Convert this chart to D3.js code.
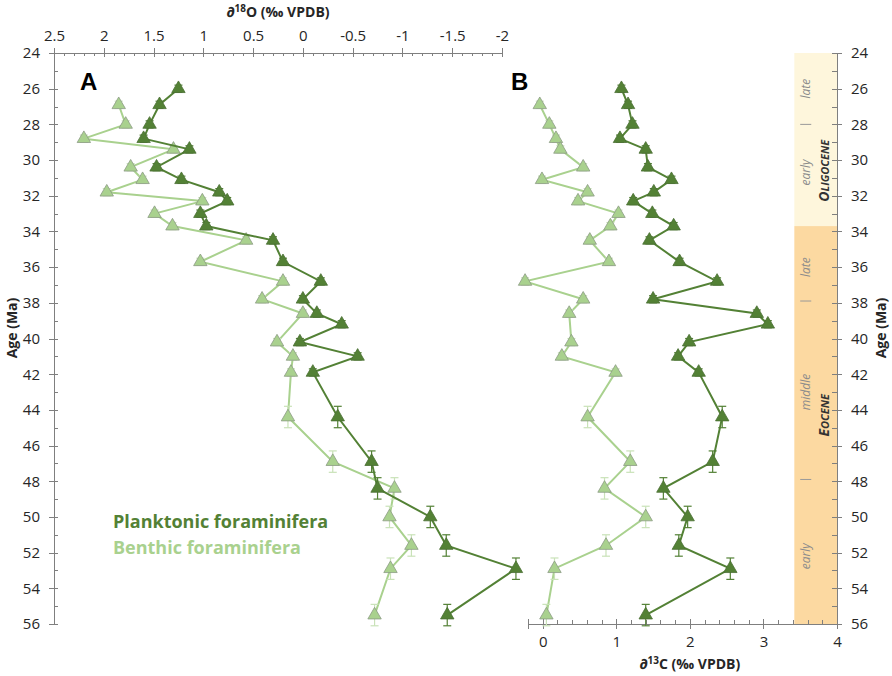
<!DOCTYPE html>
<html lang="en">
<head>
<meta charset="utf-8">
<title>Isotope records</title>
<script src="https://cdn.jsdelivr.net/npm/d3@7/dist/d3.min.js"></script>
<style>
	body { margin: 0; background: #fff; }
	svg { font-family: "Open Sans", sans-serif; }
	.axis path, .axis line { stroke: #7f7f7f; shape-rendering: crispEdges; }
	.axis text { fill: #262626; font-size: 15px; font-family: "Open Sans", sans-serif; }
	.title { font-weight: bold; font-size: 14px; fill: #262626; }
</style>
</head>
<body>
<div id="chart"></div>
<script>
	// sample ages (Ma) and isotope values
	var planktonicAge = [26.0, 26.9, 28.0, 28.8, 29.4, 30.4, 31.1, 31.8, 32.3, 33.0, 33.7, 34.5, 35.7,
		36.8, 37.8, 38.6, 39.2, 40.2, 41.0, 41.9, 44.4, 46.9, 48.4, 50.0, 51.6, 52.9, 55.5];
	var planktonicO18 = [1.25, 1.44, 1.54, 1.60, 1.14, 1.47, 1.22, 0.84, 0.76, 1.03, 0.97, 0.30, 0.20,
		-0.18, 0.00, -0.14, -0.39, 0.03, -0.55, -0.10, -0.35, -0.69, -0.75, -1.28, -1.44, -2.14, -1.45];
	var planktonicC13 = [1.07, 1.16, 1.22, 1.05, 1.40, 1.43, 1.75, 1.51, 1.23, 1.49, 1.78, 1.45, 1.86,
		2.37, 1.50, 2.91, 3.06, 1.99, 1.84, 2.12, 2.44, 2.31, 1.64, 1.97, 1.85, 2.55, 1.40];
	var planktonicAgeErr = [0.2, 0.2, 0.2, 0.2, 0.2, 0.2, 0.2, 0.2, 0.2, 0.2, 0.2, 0.2, 0.2,
		0.2, 0.2, 0.2, 0.2, 0.2, 0.2, 0.2, 0.6, 0.6, 0.6, 0.6, 0.6, 0.6, 0.6];

	var benthicAge = [26.9, 28.0, 28.8, 29.4, 30.4, 31.1, 31.8, 32.3, 33.0, 33.7, 34.5, 35.7,
		36.8, 37.8, 38.6, 40.2, 41.0, 41.9, 44.4, 46.9, 48.4, 50.0, 51.6, 52.9, 55.5];
	var benthicO18 = [1.85, 1.78, 2.20, 1.30, 1.73, 1.61, 1.97, 1.01, 1.49, 1.31, 0.57, 1.03,
		0.20, 0.41, 0.00, 0.26, 0.10, 0.12, 0.15, -0.30, -0.92, -0.87, -1.09, -0.88, -0.72];
	var benthicC13 = [-0.04, 0.09, 0.18, 0.24, 0.55, -0.01, 0.61, 0.48, 1.03, 0.92, 0.64, 0.90,
		-0.24, 0.55, 0.36, 0.39, 0.26, 0.99, 0.61, 1.19, 0.84, 1.40, 0.86, 0.16, 0.05];
	var benthicAgeErr = [0.2, 0.2, 0.2, 0.2, 0.2, 0.2, 0.2, 0.2, 0.2, 0.2, 0.2, 0.2,
		0.2, 0.2, 0.2, 0.2, 0.2, 0.2, 0.6, 0.6, 0.6, 0.6, 0.6, 0.6, 0.6];

	// epochs / stages column
	var epochNames = ["Oligocene", "Eocene"];
	var epochStart = [24, 33.7];
	var epochEnd = [33.7, 56];
	var stageNames = ["late", "early", "late", "middle", "early"];
	var stageMid = [26.0, 30.7, 36.0, 43.0, 52.2];
	var stageBounds = [28.0, 37.9, 47.9];

	var oTicks = [2.5, 2, 1.5, 1, 0.5, 0, -0.5, -1, -1.5, -2];
	var cTicks = [0, 1, 2, 3, 4];
	var ageTicks = d3.range(24, 57, 2);

	var W = 892, H = 676;
	var darkGreen = "#538135", lightGreen = "#a9d18e";

	var svg = d3.select("#chart").append("svg").attr("width", W).attr("height", H);

	var y = d3.scaleLinear().domain([24, 56]).range([53, 624]);
	var xO = d3.scaleLinear().domain([2.5, -2]).range([54, 502]);
	var xC = d3.scaleLinear().domain([-0.2, 4]).range([528, 837]);

	// epoch column
	var epochFill = ["#fef6dc", "#fcd9a1"];
	svg.append("g").selectAll("rect")
		.data(epochNames)
		.enter().append("rect")
		.attr("x", xC(3.42))
		.attr("width", xC(4) - xC(3.42))
		.attr("y", function(d, i) { return y(epochStart[i]) })
		.attr("height", function(d, i) { return y(epochEnd[i]) - y(epochStart[i]) })
		.attr("fill", function(d, i) { return epochFill[i] });

	svg.append("g").selectAll("line")
		.data(stageBounds)
		.enter().append("line")
		.attr("x1", xC(3.5)).attr("x2", xC(3.65))
		.attr("y1", function(d) { return y(d) }).attr("y2", function(d) { return y(d) })
		.attr("stroke", "#999").attr("stroke-width", 1);

	svg.append("g").selectAll("text")
		.data(stageNames)
		.enter().append("text")
		.attr("transform", function(d, i) { return "translate(" + (xC(3.58) + 4) + "," + y(stageMid[i]) + ") rotate(-90)" })
		.attr("text-anchor", "middle")
		.attr("font-size", 12).attr("font-style", "italic").attr("fill", "#8c8c8c")
		.text(function(d) { return d });

	// small caps by hand: first letter big, rest smaller upper case
	var epochMid = [30.6, 44.3];
	var epochLabels = svg.append("g").selectAll("text")
		.data(epochNames)
		.enter().append("text")
		.attr("transform", function(d, i) { return "translate(" + (xC(3.83) + 5) + "," + y(epochMid[i]) + ") rotate(-90)" })
		.attr("text-anchor", "middle")
		.attr("font-style", "italic").attr("font-weight", "bold").attr("fill", "#333");
	epochLabels.append("tspan").attr("font-size", 14).text(function(d) { return d.charAt(0) });
	epochLabels.append("tspan").attr("font-size", 11).text(function(d) { return d.slice(1).toUpperCase() });

	// axes
	function noLabel() { return "" }
	function plain(d) { return String(d) }

	var topAxis = svg.append("g").attr("class", "axis").attr("transform", "translate(0," + y(24) + ")");
	topAxis.call(d3.axisTop(xO).tickValues(oTicks).tickSize(5).tickPadding(7).tickFormat(plain));
	topAxis.append("g").call(d3.axisTop(xO).tickValues(oTicks).tickSize(-4).tickFormat(noLabel));
	topAxis.append("g").call(d3.axisTop(xO).tickValues(d3.range(-20, 26).map(function(d) { return d / 10 })).tickSize(-3).tickFormat(noLabel));

	var leftAxis = svg.append("g").attr("class", "axis").attr("transform", "translate(" + xO(2.5) + ",0)");
	leftAxis.call(d3.axisLeft(y).tickValues(ageTicks).tickSize(5).tickPadding(9).tickFormat(plain));
	leftAxis.append("g").call(d3.axisLeft(y).tickValues(ageTicks).tickSize(-4).tickFormat(noLabel));
	leftAxis.append("g").call(d3.axisLeft(y).tickValues(d3.range(25, 56, 2)).tickSize(-4).tickFormat(noLabel));

	var bottomAxis = svg.append("g").attr("class", "axis").attr("transform", "translate(0," + y(56) + ")");
	bottomAxis.call(d3.axisBottom(xC).tickValues(cTicks).tickSize(5).tickPadding(7).tickFormat(plain));
	bottomAxis.append("g").call(d3.axisBottom(xC).tickValues(cTicks).tickSize(-5).tickFormat(noLabel));
	bottomAxis.append("g").call(d3.axisBottom(xC).tickValues(d3.range(-1, 21).map(function(d) { return d / 5 })).tickSize(-4).tickFormat(noLabel));

	var rightAxis = svg.append("g").attr("class", "axis").attr("transform", "translate(" + xC(4) + ",0)");
	rightAxis.call(d3.axisRight(y).tickValues(ageTicks).tickSize(5).tickPadding(9).tickFormat(plain));
	rightAxis.append("g").call(d3.axisRight(y).tickValues(ageTicks).tickSize(-5).tickFormat(noLabel));
	rightAxis.append("g").call(d3.axisRight(y).tickValues(d3.range(25, 56, 2)).tickSize(-5).tickFormat(noLabel));

	svg.selectAll(".axis .domain").attr("stroke", "#7f7f7f");

	// titles
	svg.append("text").attr("class", "title").attr("x", xO(0.25)).attr("y", 17).attr("text-anchor", "middle")
		.html('∂<tspan dy="-5" font-size="10">18</tspan><tspan dy="5">O (‰ VPDB)</tspan>');
	svg.append("text").attr("class", "title").attr("x", xC(2.0)).attr("y", 669).attr("text-anchor", "middle")
		.html('∂<tspan dy="-5" font-size="10">13</tspan><tspan dy="5">C (‰ VPDB)</tspan>');
	svg.append("text").attr("class", "title").attr("transform", "translate(17,328) rotate(-90)")
		.attr("text-anchor", "middle").text("Age (Ma)");
	svg.append("text").attr("class", "title").attr("transform", "translate(886,328) rotate(-90)")
		.attr("text-anchor", "middle").text("Age (Ma)");

	svg.append("text").attr("x", 80).attr("y", 90).attr("font-size", 24).attr("font-weight", "bold")
		.attr("font-family", "Liberation Sans, Arial, sans-serif").text("A");
	svg.append("text").attr("x", 511).attr("y", 90).attr("font-size", 24).attr("font-weight", "bold")
		.attr("font-family", "Liberation Sans, Arial, sans-serif").text("B");

	// legend
	svg.append("text").attr("x", 113).attr("y", 528).attr("font-size", 18).attr("font-weight", "bold")
		.attr("fill", darkGreen).text("Planktonic foraminifera");
	svg.append("text").attr("x", 113).attr("y", 554).attr("font-size", 18).attr("font-weight", "bold")
		.attr("fill", lightGreen).text("Benthic foraminifera");

	// series
	function drawSeries(ages, vals, errs, x, color, errColor, stroke) {
		var pts = ages.map(function(a, i) { return { age: a, v: vals[i], e: errs[i] } });
		var g = svg.append("g");
		g.append("path").datum(pts)
			.attr("fill", "none").attr("stroke", color).attr("stroke-width", 2)
			.attr("d", d3.line().x(function(d) { return x(d.v) }).y(function(d) { return y(d.age) }));
		var eb = g.append("g").selectAll("g").data(pts).enter().append("g")
			.attr("stroke", errColor).attr("stroke-width", 1.2);
		eb.append("line")
			.attr("x1", function(d) { return x(d.v) }).attr("x2", function(d) { return x(d.v) })
			.attr("y1", function(d) { return y(d.age - d.e) }).attr("y2", function(d) { return y(d.age + d.e) });
		[-1, 1].forEach(function(s) {
			eb.append("line")
				.attr("x1", function(d) { return x(d.v) - 4 }).attr("x2", function(d) { return x(d.v) + 4 })
				.attr("y1", function(d) { return y(d.age + s * d.e) }).attr("y2", function(d) { return y(d.age + s * d.e) });
		});
		g.append("g").selectAll("path").data(pts).enter().append("path")
			.attr("d", d3.symbol(d3.symbolTriangle, 78))
			.attr("transform", function(d) { return "translate(" + x(d.v) + "," + y(d.age) + ")" })
			.attr("fill", color).attr("stroke", stroke).attr("stroke-width", 0.8);
	}

	drawSeries(benthicAge, benthicO18, benthicAgeErr, xO, lightGreen, "#c9e2b8", "#8c9a84");
	drawSeries(planktonicAge, planktonicO18, planktonicAgeErr, xO, darkGreen, darkGreen, "#4a6e33");
	drawSeries(benthicAge, benthicC13, benthicAgeErr, xC, lightGreen, "#c9e2b8", "#8c9a84");
	drawSeries(planktonicAge, planktonicC13, planktonicAgeErr, xC, darkGreen, darkGreen, "#4a6e33");
</script>
</body>
</html>
